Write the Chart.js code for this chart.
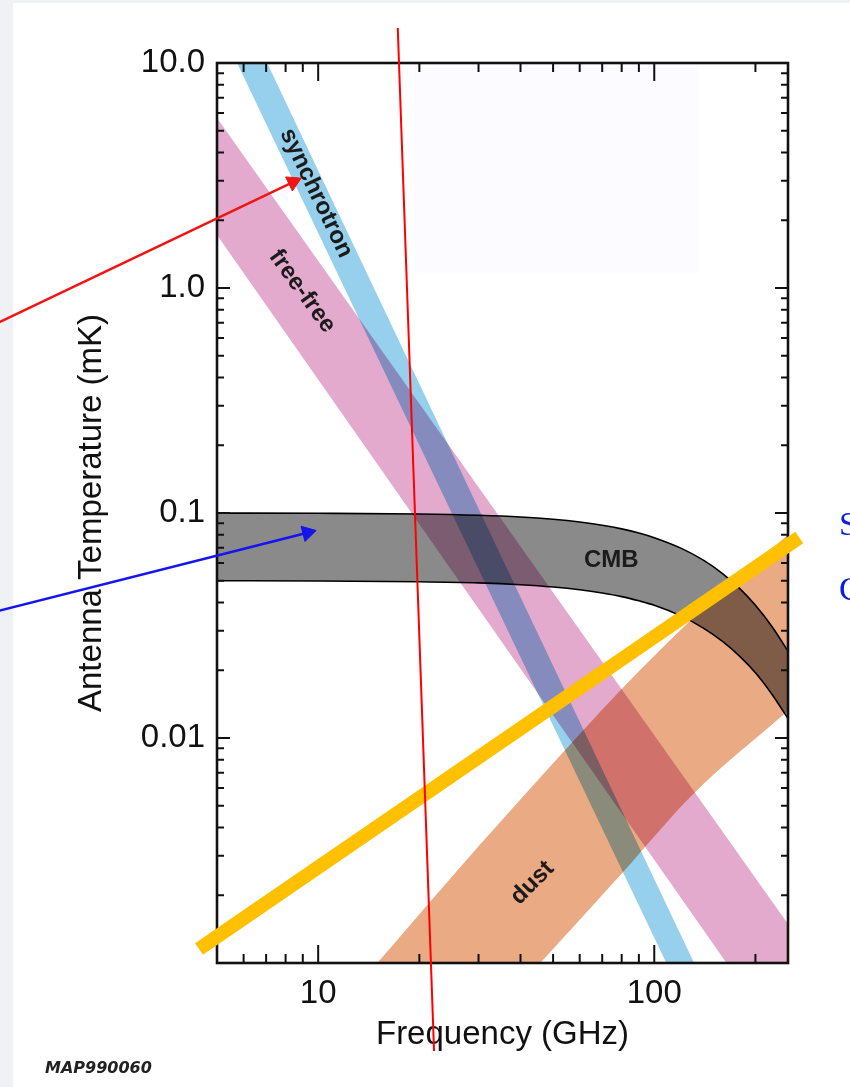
<!DOCTYPE html>
<html><head><meta charset="utf-8">
<script src="https://cdn.jsdelivr.net/npm/chart.js@4/dist/chart.umd.min.js"></script>
<style>html,body{margin:0;padding:0;background:#fff;overflow:hidden}canvas{display:block}</style>
</head><body>
<canvas id="c" width="850" height="1087"></canvas>
<script>
// ---------- data (GHz / mK) ----------
const xTickValues = [10, 100];
const xTickLabels = ['10', '100'];
const yTickValues = [10, 1, 0.1, 0.01];
const yTickLabels = ['10.0', '1.0', '0.1', '0.01'];
const xMinorTicks = [6, 7, 8, 9, 20, 30, 40, 50, 60, 70, 80, 90, 200];
const yMinorTicks = [0.002, 0.003, 0.004, 0.005, 0.006, 0.007, 0.008, 0.009,
                     0.02, 0.03, 0.04, 0.05, 0.06, 0.07, 0.08, 0.09,
                     0.2, 0.3, 0.4, 0.5, 0.6, 0.7, 0.8, 0.9,
                     2, 3, 4, 5, 6, 7, 8, 9];

const syncFreq = [5, 250];
const syncUpper = [29.5, 1.32e-4];
const syncLower = [15.4, 7.35e-5];

const ffFreq = [5, 250];
const ffUpper = [5.69, 1.49e-3];
const ffLower = [1.72, 4.07e-4];

const dustFreq = [12, 15, 30, 33, 45.5, 80, 130, 250];
const dustUpper = [0.00068, 0.001, 0.0033, 0.00387, 0.0066, 0.0165, 0.034, 0.080];
const dustLower = [0.000119, 0.00017, 0.00051, 0.000594, 0.00099, 0.00250, 0.00560, 0.0132];

const cmbFreq = [5, 10, 20, 30, 40, 50, 60, 70, 80, 90, 100, 120, 140, 160, 180, 200, 225, 250];
const cmbUpper = [0.0999, 0.0997, 0.0990, 0.0977, 0.0960, 0.0938, 0.0912, 0.0882, 0.0850, 0.0815, 0.0777, 0.0698, 0.0617, 0.0537, 0.0460, 0.0389, 0.0310, 0.0243];
const cmbLower = [0.0500, 0.0499, 0.0495, 0.0489, 0.0480, 0.0469, 0.0456, 0.0441, 0.0425, 0.0407, 0.0389, 0.0349, 0.0308, 0.0268, 0.0230, 0.0195, 0.0155, 0.0122];

const bandLabels = ['synchrotron', 'free-free', 'CMB', 'dust'];
const labelFreq = [9.86, 8.96, 74.5, 43.4];
const labelTemp = [2.64, 0.967, 0.0615, 0.00227];
const labelAngle = [64.5, 54, 0, -45];

// overlaid annotations (in data coordinates)
const redLineFreq = [17.25, 22.12];
const redLineTemp = [14.31, 4.06e-4];
const redArrowFreq = [1.124, 8.42];
const redArrowTemp = [0.704, 2.958];
const blueArrowFreq = [1.124, 9.29];
const blueArrowTemp = [0.0368, 0.0817];
const goldLineFreq = [4.42, 270];
const goldLineTemp = [0.001154, 0.0778];
const shadeFreq = [19.3, 136];
const shadeTemp = [1.17, 10];

// ---------- chart ----------
const FONT = "'Liberation Sans', Arial, Helvetica, sans-serif";
const pts = (xs, ys) => xs.map((x, i) => ({x: x, y: ys[i]}));

function band(xs, up, lo, color, border) {
  return [
    {data: pts(xs, up), fill: '+1', backgroundColor: color, borderColor: '#000',
     borderWidth: border, pointRadius: 0, cubicInterpolationMode: 'monotone'},
    {data: pts(xs, lo), fill: false, borderColor: '#000', borderWidth: border,
     pointRadius: 0, cubicInterpolationMode: 'monotone'}
  ];
}
function annot(xs, ys, color, width, arrowRot) {
  return {data: pts(xs, ys), fill: false, clip: false, borderColor: color, borderWidth: width,
    borderCapStyle: 'butt',
    pointRadius: arrowRot === null ? 0 : [0, 9],
    pointStyle: 'triangle', pointRotation: arrowRot === null ? 0 : [0, arrowRot],
    pointBackgroundColor: color, pointBorderColor: color, pointBorderWidth: 1};
}

const datasets = [
  annot(blueArrowFreq, blueArrowTemp, '#1414ee', 2.5, 75.8),
  annot(redArrowFreq, redArrowTemp, '#f01414', 2.5, 64.5),
  annot(redLineFreq, redLineTemp, '#ff0000', 2, null),
  annot(goldLineFreq, goldLineTemp, '#ffc000', 14, null),
  ...band(cmbFreq, cmbUpper, cmbLower, 'rgb(138,138,138)', 1.6),
  ...band(dustFreq, dustUpper, dustLower, 'rgb(234,170,132)', 0),
  ...band(ffFreq, ffUpper, ffLower, 'rgb(228,170,206)', 0),
  ...band(syncFreq, syncUpper, syncLower, 'rgb(150,208,236)', 0)
];

function drawFrame(chart) {
  const {ctx, chartArea: a, scales: {x, y}} = chart;
  ctx.save();
  ctx.strokeStyle = '#111';
  ctx.lineWidth = 2;
  ctx.beginPath();
  const xt = (v, len) => { const p = x.getPixelForValue(v);
    ctx.moveTo(p, a.bottom); ctx.lineTo(p, a.bottom - len);
    ctx.moveTo(p, a.top); ctx.lineTo(p, a.top + len); };
  const yt = (v, len) => { const p = y.getPixelForValue(v);
    ctx.moveTo(a.left, p); ctx.lineTo(a.left + len, p);
    ctx.moveTo(a.right, p); ctx.lineTo(a.right - len, p); };
  xMinorTicks.forEach(v => xt(v, 9));
  xTickValues.forEach(v => xt(v, 18));
  yMinorTicks.forEach(v => yt(v, 7));
  yTickValues.forEach(v => yt(v, 13));
  ctx.stroke();
  ctx.lineWidth = 2.6;
  ctx.strokeRect(a.left, a.top, a.right - a.left, a.bottom - a.top);
  ctx.restore();
}
function drawLabels(chart) {
  const {ctx, scales: {x, y}} = chart;
  ctx.save();
  ctx.fillStyle = '#1b1b1b';
  ctx.font = 'bold 24px ' + FONT;
  ctx.textAlign = 'center';
  ctx.textBaseline = 'middle';
  bandLabels.forEach((t, i) => {
    ctx.save();
    ctx.translate(x.getPixelForValue(labelFreq[i]), y.getPixelForValue(labelTemp[i]));
    ctx.rotate(labelAngle[i] * Math.PI / 180);
    ctx.fillText(t, 0, 0);
    ctx.restore();
  });
  ctx.restore();
}

const deco = {
  id: 'deco',
  beforeDraw(chart) {
    const ctx = chart.ctx;
    ctx.globalCompositeOperation = 'source-over';
    ctx.save();
    ctx.fillStyle = '#fff';
    ctx.fillRect(0, 0, chart.width, chart.height);
    ctx.fillStyle = '#f0f1f4';
    ctx.fillRect(0, 0, 13, chart.height);
    ctx.fillRect(0, 0, chart.width, 3);
    ctx.restore();
  },
  beforeDatasetsDraw(chart) {
    const {ctx, scales: {x, y}} = chart;
    ctx.save();
    ctx.fillStyle = 'rgb(252,251,255)';
    const x0 = x.getPixelForValue(shadeFreq[0]), x1 = x.getPixelForValue(shadeFreq[1]);
    const y0 = y.getPixelForValue(shadeTemp[1]), y1 = y.getPixelForValue(shadeTemp[0]);
    ctx.fillRect(x0, y0, x1 - x0, y1 - y0);
    ctx.restore();
    ctx.globalCompositeOperation = 'multiply';
  },
  beforeDatasetDraw(chart, args) {
    if (args.index <= 3) {
      chart.ctx.globalCompositeOperation = 'source-over';
      if (args.index === 3) { drawLabels(chart); drawFrame(chart); }
    }
  },
  afterDatasetsDraw(chart) {
    const ctx = chart.ctx;
    ctx.globalCompositeOperation = 'source-over';
    ctx.save();
    ctx.fillStyle = '#222';
    ctx.font = "bold oblique 16px 'DejaVu Sans', sans-serif";
    ctx.textBaseline = 'alphabetic';
    ctx.fillText('MAP990060', 45, 1073);
    ctx.fillStyle = '#0b1fe0';
    ctx.font = "34px 'Liberation Serif', 'Times New Roman', serif";
    ctx.fillText('S', 839, 535);
    ctx.fillText('C', 839, 600);
    ctx.restore();
  }
};

new Chart(document.getElementById('c'), {
  type: 'line',
  data: {datasets: datasets},
  options: {
    responsive: false,
    animation: false,
    events: [],
    layout: {padding: {left: 0, top: 63, right: 62, bottom: 0}},
    plugins: {legend: {display: false}, tooltip: {enabled: false}},
    elements: {line: {tension: 0}},
    scales: {
      x: {
        type: 'logarithmic', min: 5, max: 250,
        afterBuildTicks: s => { s.ticks = xTickValues.map(v => ({value: v})); },
        afterFit: s => { s.height = 124; },
        ticks: {callback: (v, i) => xTickLabels[i], autoSkip: false, maxRotation: 0,
                font: {family: FONT, size: 33}, color: '#111', padding: 11},
        grid: {display: false, drawTicks: false},
        border: {display: false},
        title: {display: true, text: 'Frequency (GHz)', color: '#111',
                font: {family: FONT, size: 33}, padding: {top: 0, bottom: 32}}
      },
      y: {
        type: 'logarithmic', min: 0.001, max: 10,
        afterBuildTicks: s => { s.ticks = yTickValues.map(v => ({value: v})); },
        afterFit: s => { s.width = 217; },
        ticks: {callback: (v, i) => yTickLabels[i], autoSkip: false,
                font: {family: FONT, size: 33}, color: '#111', padding: 12},
        grid: {display: false, drawTicks: false},
        border: {display: false},
        title: {display: true, text: 'Antenna Temperature (mK)', color: '#111',
                font: {family: FONT, size: 33}, padding: {top: 72, bottom: 0}}
      }
    }
  },
  plugins: [deco]
});
</script>
</body></html>
